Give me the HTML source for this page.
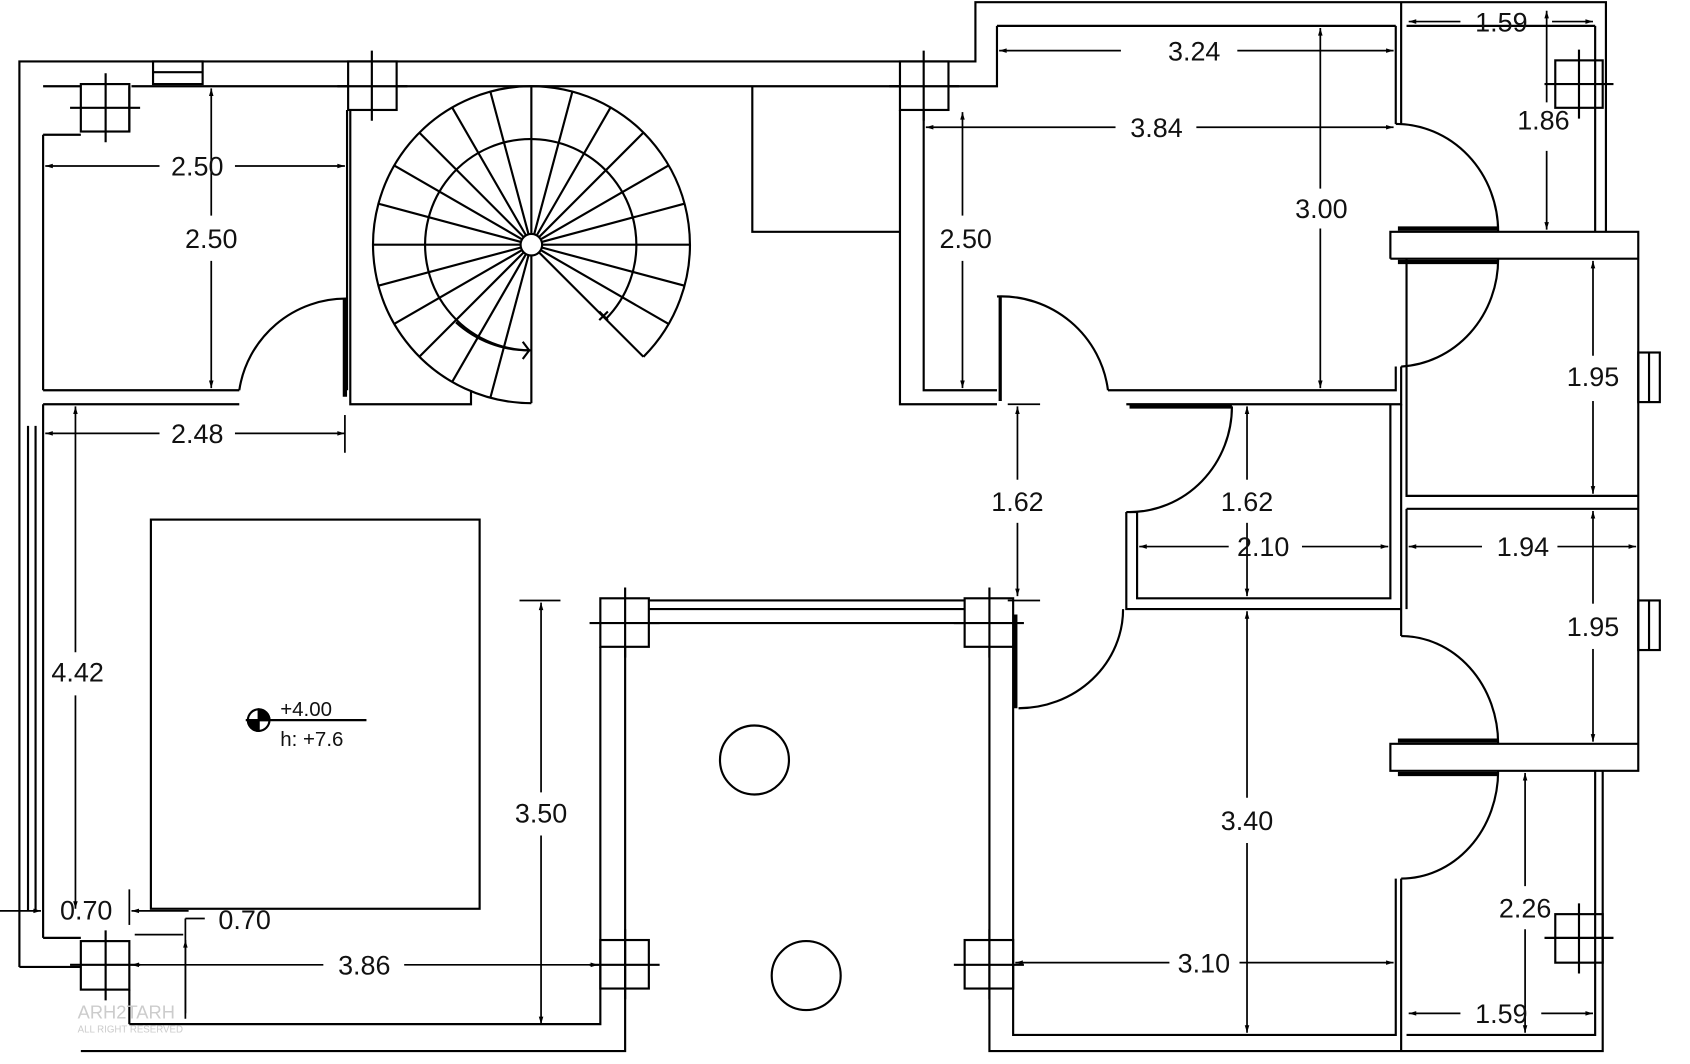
<!DOCTYPE html>
<html><head><meta charset="utf-8"><style>
html,body{margin:0;padding:0;background:#fff;width:1690px;height:1064px;overflow:hidden}
svg{display:block}
text{font-family:"Liberation Sans",sans-serif;font-size:25px;fill:#111}
</style></head><body>
<svg width="1690" height="1064" viewBox="0 0 1568 987" preserveAspectRatio="none" xmlns="http://www.w3.org/2000/svg">
<defs>
<marker id="a" viewBox="0 0 10 10" refX="10" refY="5" markerWidth="14" markerHeight="7" markerUnits="userSpaceOnUse" orient="auto-start-reverse"><path d="M0,2 L10,5 L0,8 Z" fill="#000"/></marker>
</defs>
<rect width="1568" height="987" fill="#fff"/>
<g stroke="#000" stroke-width="2" fill="none">
<path d="M18,897 V57 H905 V2 H1490 V215"/>
<path d="M1300,2 V115 M1295,24 V115 M925,24 H1295 M925,24 V80 H880"/>
<path d="M1480,24 V215 M1305,24 H1480"/>
<path d="M40,80 H75 M122,80 H323 M368,80 H835"/>
<rect x="142" y="57" width="46" height="21"/><line x1="142" y1="67" x2="188" y2="67"/>
<path d="M26,395 V845 M33,395 V845 M40,125 V362 M40,375 V870"/>
<path d="M18,897 H75 M40,870 H75"/>
<path d="M40,125 H75 M120,80 V122"/>
<path d="M40,362 H222 M40,375 H222"/>
<path d="M322,102 V362 M325,102 V375 H437 V362"/>
<path d="M222,362 A100,100 0 0 1 322,277"/>
<line x1="320" y1="277" x2="320" y2="368" stroke-width="4"/>
<path d="M698,80 V215 H835 M835,102 V375 H925 M857,102 V362 H925"/>
<path d="M1028,362 H1295 V340 M1045,375 H1300 V340"/>
<path d="M925,275 A100,100 0 0 1 1028,362"/>
<line x1="928" y1="275" x2="928" y2="372" stroke-width="3"/>
<path d="M1295,115 A95,100 0 0 1 1390,215"/>
<path d="M1390,240 A95,100 0 0 1 1300,340"/>
<path d="M1290,240 V215 H1520 V715 H1290 V690 H1520 M1290,240 H1520"/>
<line x1="1297" y1="212" x2="1390" y2="212" stroke-width="4"/>
<line x1="1297" y1="243" x2="1390" y2="243" stroke-width="4"/>
<line x1="1297" y1="687" x2="1390" y2="687" stroke-width="4"/>
<line x1="1297" y1="718" x2="1390" y2="718" stroke-width="4"/>
<path d="M1305,240 V460 H1520 M1305,472 H1520 M1305,472 V565"/>
<path d="M1300,375 V590"/>
<rect x="1520" y="327" width="20" height="46"/><line x1="1530" y1="327" x2="1530" y2="373"/>
<rect x="1520" y="557" width="20" height="46"/><line x1="1530" y1="557" x2="1530" y2="603"/>
<path d="M1300,590 A90,100 0 0 1 1390,690"/>
<path d="M1390,715 A90,100 0 0 1 1300,815"/>
<path d="M1487,715 V975 H918 V600 M1480,715 V960 H1305 M1300,815 V975 M1295,815 V960 H940 V600"/>
<path d="M1055,475 V555 H1290 V375 M1045,475 V565 H1300 M1045,475 H1055"/>
<path d="M1143,377 A95,98 0 0 1 1048,475"/>
<line x1="1048" y1="377" x2="1143" y2="377" stroke-width="4"/>
<path d="M945,657 A97,92 0 0 0 1042,565"/>
<line x1="942" y1="570" x2="942" y2="657" stroke-width="4"/>
<path d="M602,557 H895 M602,565 H895 M602,578 H895"/>
<path d="M75,975 H580 V600 M557,600 V950 H120 M120,918 V950"/>
<rect x="140" y="482" width="305" height="361"/>
<g>
<rect x="75" y="78" width="45" height="44"/><path d="M65,100 H130 M98,68 V132"/>
<rect x="323" y="57" width="45" height="45"/><path d="M313,80 H378 M345,47 V112"/>
<rect x="835" y="57" width="45" height="45"/><path d="M825,80 H890 M857,47 V112"/>
<rect x="1443" y="56" width="44" height="44"/><path d="M1433,78 H1497 M1465,46 V110"/>
<rect x="557" y="555" width="45" height="45"/><path d="M547,578 H612 M580,545 V610"/>
<rect x="895" y="555" width="45" height="45"/><path d="M885,578 H950 M918,545 V610"/>
<rect x="75" y="873" width="45" height="45"/><path d="M65,895 H130 M98,863 V928"/>
<rect x="557" y="872" width="45" height="45"/><path d="M547,895 H612 M580,862 V927"/>
<rect x="895" y="872" width="45" height="45"/><path d="M885,895 H950 M918,862 V927"/>
<rect x="1443" y="848" width="44" height="45"/><path d="M1433,870 H1497 M1465,838 V903"/>
</g>
<circle cx="700" cy="705" r="32"/>
<circle cx="748" cy="905" r="32"/>
<g transform="translate(493,227)">
<path d="M0,147 A147,147 0 1 1 104,104"/>
<path d="M0,98 A98,98 0 1 1 69,69"/>
<circle r="10" fill="#fff"/>
<line x1="0" y1="10" x2="0" y2="147" transform="rotate(0)"/>
<line x1="0" y1="10" x2="0" y2="147" transform="rotate(15)"/>
<line x1="0" y1="10" x2="0" y2="147" transform="rotate(30)"/>
<line x1="0" y1="10" x2="0" y2="147" transform="rotate(45)"/>
<line x1="0" y1="10" x2="0" y2="147" transform="rotate(60)"/>
<line x1="0" y1="10" x2="0" y2="147" transform="rotate(75)"/>
<line x1="0" y1="10" x2="0" y2="147" transform="rotate(90)"/>
<line x1="0" y1="10" x2="0" y2="147" transform="rotate(105)"/>
<line x1="0" y1="10" x2="0" y2="147" transform="rotate(120)"/>
<line x1="0" y1="10" x2="0" y2="147" transform="rotate(135)"/>
<line x1="0" y1="10" x2="0" y2="147" transform="rotate(150)"/>
<line x1="0" y1="10" x2="0" y2="147" transform="rotate(165)"/>
<line x1="0" y1="10" x2="0" y2="147" transform="rotate(180)"/>
<line x1="0" y1="10" x2="0" y2="147" transform="rotate(195)"/>
<line x1="0" y1="10" x2="0" y2="147" transform="rotate(210)"/>
<line x1="0" y1="10" x2="0" y2="147" transform="rotate(225)"/>
<line x1="0" y1="10" x2="0" y2="147" transform="rotate(240)"/>
<line x1="0" y1="10" x2="0" y2="147" transform="rotate(255)"/>
<line x1="0" y1="10" x2="0" y2="147" transform="rotate(270)"/>
<line x1="0" y1="10" x2="0" y2="147" transform="rotate(285)"/>
<line x1="0" y1="10" x2="0" y2="147" transform="rotate(300)"/>
<line x1="0" y1="10" x2="0" y2="147" transform="rotate(315)"/>
<path d="M-70,72 A100,100 0 0 0 -2,98"/>
<path d="M-8,90 L-2,98 L-8,106"/>
<path d="M63,62 l8,8 M63,70 l8,-8"/>
</g>
<circle cx="240" cy="668" r="10"/>
<path d="M240,658 A10,10 0 0 1 250,668 H240 Z M240,678 A10,10 0 0 1 230,668 H240 Z" fill="#000"/>
<path d="M228,668 H340"/>
</g>
<text x="260" y="664" style="font-size:19px">+4.00</text>
<text x="260" y="692" style="font-size:19px">h: +7.6</text>
<g stroke="#000" stroke-width="1.6" fill="none">
<line x1="218" y1="154" x2="320" y2="154" marker-end="url(#a)"/>
<line x1="148" y1="154" x2="42" y2="154" marker-end="url(#a)"/>
<line x1="196" y1="200" x2="196" y2="82" marker-end="url(#a)"/>
<line x1="196" y1="242" x2="196" y2="360" marker-end="url(#a)"/>
<line x1="148" y1="402" x2="42" y2="402" marker-end="url(#a)"/>
<line x1="218" y1="402" x2="320" y2="402" marker-end="url(#a)"/>
<line x1="320" y1="385" x2="320" y2="420"/>
<line x1="70" y1="605" x2="70" y2="377" marker-end="url(#a)"/>
<line x1="70" y1="645" x2="70" y2="843" marker-end="url(#a)"/>
<line x1="0" y1="845" x2="38" y2="845" marker-end="url(#a)"/>
<line x1="175" y1="845" x2="122" y2="845" marker-end="url(#a)"/>
<line x1="120" y1="825" x2="120" y2="858"/>
<path d="M172,852 H190 M172,852 V945"/>
<line x1="172" y1="940" x2="172" y2="872" marker-end="url(#a)"/>
<path d="M125,867 H170"/>
<line x1="300" y1="895" x2="122" y2="895" marker-end="url(#a)"/>
<line x1="375" y1="895" x2="555" y2="895" marker-end="url(#a)"/>
<line x1="502" y1="735" x2="502" y2="559" marker-end="url(#a)"/>
<line x1="502" y1="775" x2="502" y2="950" marker-end="url(#a)"/>
<line x1="482" y1="557" x2="520" y2="557"/>
<line x1="1040" y1="47" x2="927" y2="47" marker-end="url(#a)"/>
<line x1="1148" y1="47" x2="1293" y2="47" marker-end="url(#a)"/>
<line x1="1035" y1="118" x2="859" y2="118" marker-end="url(#a)"/>
<line x1="1110" y1="118" x2="1293" y2="118" marker-end="url(#a)"/>
<line x1="1225" y1="175" x2="1225" y2="26" marker-end="url(#a)"/>
<line x1="1225" y1="212" x2="1225" y2="360" marker-end="url(#a)"/>
<line x1="893" y1="200" x2="893" y2="104" marker-end="url(#a)"/>
<line x1="893" y1="242" x2="893" y2="360" marker-end="url(#a)"/>
<line x1="1355" y1="20" x2="1307" y2="20" marker-end="url(#a)"/>
<line x1="1440" y1="20" x2="1478" y2="20" marker-end="url(#a)"/>
<line x1="1435" y1="95" x2="1435" y2="10" marker-end="url(#a)"/>
<line x1="1435" y1="140" x2="1435" y2="213" marker-end="url(#a)"/>
<line x1="1478" y1="330" x2="1478" y2="242" marker-end="url(#a)"/>
<line x1="1478" y1="372" x2="1478" y2="458" marker-end="url(#a)"/>
<line x1="1478" y1="560" x2="1478" y2="474" marker-end="url(#a)"/>
<line x1="1478" y1="602" x2="1478" y2="688" marker-end="url(#a)"/>
<line x1="1375" y1="507" x2="1307" y2="507" marker-end="url(#a)"/>
<line x1="1445" y1="507" x2="1518" y2="507" marker-end="url(#a)"/>
<line x1="1140" y1="507" x2="1057" y2="507" marker-end="url(#a)"/>
<line x1="1208" y1="507" x2="1288" y2="507" marker-end="url(#a)"/>
<line x1="944" y1="445" x2="944" y2="377" marker-end="url(#a)"/>
<line x1="944" y1="485" x2="944" y2="553" marker-end="url(#a)"/>
<path d="M935,375 H965 M935,557 H965"/>
<line x1="1157" y1="445" x2="1157" y2="377" marker-end="url(#a)"/>
<line x1="1157" y1="485" x2="1157" y2="553" marker-end="url(#a)"/>
<line x1="1157" y1="740" x2="1157" y2="567" marker-end="url(#a)"/>
<line x1="1157" y1="782" x2="1157" y2="958" marker-end="url(#a)"/>
<line x1="1085" y1="893" x2="942" y2="893" marker-end="url(#a)"/>
<line x1="1150" y1="893" x2="1293" y2="893" marker-end="url(#a)"/>
<line x1="1415" y1="822" x2="1415" y2="717" marker-end="url(#a)"/>
<line x1="1415" y1="862" x2="1415" y2="958" marker-end="url(#a)"/>
<line x1="1355" y1="940" x2="1307" y2="940" marker-end="url(#a)"/>
<line x1="1430" y1="940" x2="1478" y2="940" marker-end="url(#a)"/>
</g>
<g text-anchor="middle">
<text x="183" y="163">2.50</text>
<text x="196" y="230">2.50</text>
<text x="183" y="411">2.48</text>
<text x="72" y="632">4.42</text>
<text x="80" y="853">0.70</text>
<text x="227" y="862">0.70</text>
<text x="338" y="904">3.86</text>
<text x="502" y="763">3.50</text>
<text x="1108" y="56">3.24</text>
<text x="1073" y="127">3.84</text>
<text x="1226" y="202">3.00</text>
<text x="896" y="230">2.50</text>
<text x="1393" y="29">1.59</text>
<text x="1432" y="120">1.86</text>
<text x="1478" y="358">1.95</text>
<text x="1413" y="516">1.94</text>
<text x="1172" y="516">2.10</text>
<text x="944" y="474">1.62</text>
<text x="1157" y="474">1.62</text>
<text x="1478" y="590">1.95</text>
<text x="1157" y="770">3.40</text>
<text x="1117" y="902">3.10</text>
<text x="1415" y="851">2.26</text>
<text x="1393" y="949">1.59</text>
</g>
<text x="72" y="945" style="font-size:17px;fill:#ccc">ARH2TARH</text>
<text x="72" y="958" style="font-size:9px;fill:#ccc">ALL RIGHT RESERVED</text>
</svg>
</body></html>
